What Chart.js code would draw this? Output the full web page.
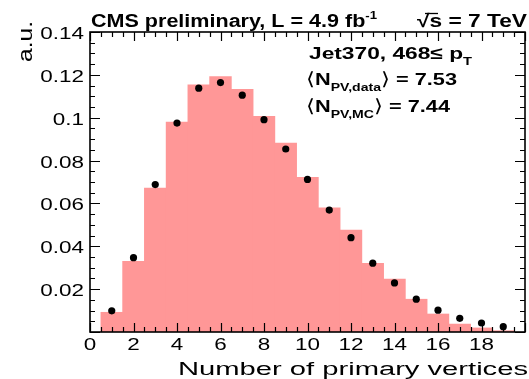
<!DOCTYPE html>
<html>
<head>
<meta charset="utf-8">
<script src="https://cdn.jsdelivr.net/npm/chart.js@4.4.1/dist/chart.umd.min.js"></script>
<style>
  html, body { margin: 0; padding: 0; background: #fff; }
  canvas { display: block; }
</style>
</head>
<body>
<canvas id="pvChart" width="529" height="379"></canvas>
<script>
// bins of the number of primary vertices (centres)
const binCenters = [1, 2, 3, 4, 5, 6, 7, 8, 9, 10, 11, 12, 13, 14, 15, 16, 17, 18, 19];
// MC histogram (pink)
const mcValues = [0.0092, 0.0330, 0.0672, 0.0980, 0.1153, 0.1192, 0.1132, 0.1006, 0.0882,
                  0.0722, 0.0580, 0.0476, 0.0321, 0.0247, 0.0153, 0.0084, 0.0037, 0.0019, 0.0006];
// data points (black)
const dataValues = [0.0099, 0.0347, 0.0688, 0.0975, 0.1138, 0.1164, 0.1105, 0.0991, 0.0854,
                    0.0712, 0.0569, 0.0440, 0.0321, 0.0229, 0.0153, 0.0102, 0.0064, 0.0042, 0.0025];
// axis labels
const xTickLabels = [0, 2, 4, 6, 8, 10, 12, 14, 16, 18];
const yTickLabels = [0.02, 0.04, 0.06, 0.08, 0.1, 0.12, 0.14];

const FONT = '"Liberation Sans", Arial, Helvetica, sans-serif';

// draw a run of text pieces, stretched horizontally to fit a given width
function drawParts(ctx, parts, x, y, width, align) {
  let natural = 0;
  for (const p of parts) {
    ctx.font = p.font;
    natural += ctx.measureText(p.text).width;
  }
  const sx = width ? width / natural : 1.32;
  let start = x;
  if (align === 'right') start = x - natural * sx;
  if (align === 'center') start = x - natural * sx / 2;
  ctx.save();
  ctx.translate(start, y);
  ctx.scale(sx, 1);
  ctx.textAlign = 'left';
  ctx.textBaseline = 'alphabetic';
  let cx = 0;
  for (const p of parts) {
    ctx.font = p.font;
    ctx.fillText(p.text, cx, p.dy || 0);
    cx += ctx.measureText(p.text).width;
  }
  ctx.restore();
}

const rootStyle = {
  id: 'rootStyle',
  afterDraw(chart) {
    const ctx = chart.ctx;
    const a = chart.chartArea;
    const xs = chart.scales.x;
    const ys = chart.scales.y;
    ctx.save();
    ctx.fillStyle = '#000';
    ctx.strokeStyle = '#000';

    // ticks on all four sides, pointing inwards
    ctx.lineWidth = 1.2;
    ctx.beginPath();
    for (let v = 0; v <= 20.001; v += 0.5) {
      const px = Math.round(xs.getPixelForValue(v)) + 0.5;
      const len = Math.abs(v % 2) < 1e-6 ? 9 : 5;
      ctx.moveTo(px, a.bottom); ctx.lineTo(px, a.bottom - len);
      ctx.moveTo(px, a.top); ctx.lineTo(px, a.top + len);
    }
    for (let i = 0; i <= 28; i++) {
      const v = i * 0.005;
      const py = Math.round(ys.getPixelForValue(v)) + 0.5;
      const len = i % 4 === 0 ? 10 : 5;
      ctx.moveTo(a.left, py); ctx.lineTo(a.left + len, py);
      ctx.moveTo(a.right, py); ctx.lineTo(a.right - len, py);
    }
    ctx.stroke();

    // frame
    ctx.lineWidth = 1.6;
    ctx.strokeRect(a.left, a.top, a.right - a.left, a.bottom - a.top);

    // tick labels
    const tickFont = '17px ' + FONT;
    for (const v of xTickLabels) {
      drawParts(ctx, [{ text: String(v), font: tickFont }], xs.getPixelForValue(v), 350, 0, 'center');
    }
    for (const v of yTickLabels) {
      drawParts(ctx, [{ text: String(v), font: tickFont }], 84, ys.getPixelForValue(v) + 7, 0, 'right');
    }

    // axis titles
    drawParts(ctx, [{ text: 'Number of primary vertices', font: '18px ' + FONT }], 528, 375, 350, 'right');
    ctx.save();
    ctx.translate(32, 21);
    ctx.rotate(-Math.PI / 2);
    drawParts(ctx, [{ text: 'a.u.', font: '20px ' + FONT }], 0, 0, 41, 'right');
    ctx.restore();

    // header
    const hb = 'bold 18px ' + FONT;
    const hs = 'bold 11px ' + FONT;
    drawParts(ctx, [{ text: 'CMS preliminary, L = 4.9 fb', font: hb }, { text: '-1', font: hs, dy: -8 }], 91, 27, 286, 'left');
    drawParts(ctx, [{ text: '\u221As = 7 TeV', font: hb }], 527, 27, 110, 'right');
    // overline of the square root
    ctx.lineWidth = 1.3;
    ctx.beginPath();
    ctx.moveTo(425, 13.5); ctx.lineTo(438, 13.5);
    ctx.stroke();

    // info box
    const ib = 'bold 17px ' + FONT;
    const is = 'bold 11px ' + FONT;
    const ia = '18px "DejaVu Sans", ' + FONT;
    drawParts(ctx, [{ text: 'Jet370, 468\u2264 p', font: ib }, { text: 'T', font: is, dy: 6 }], 309, 59, 163, 'left');
    drawParts(ctx, [{ text: '\u27E8', font: ia }, { text: 'N', font: ib }, { text: 'PV,data', font: is, dy: 6 },
                    { text: '\u27E9', font: ia }, { text: ' = 7.53', font: ib }], 306, 85, 151, 'left');
    drawParts(ctx, [{ text: '\u27E8', font: ia }, { text: 'N', font: ib }, { text: 'PV,MC', font: is, dy: 6 },
                    { text: '\u27E9', font: ia }, { text: ' = 7.44', font: ib }], 306, 112, 144, 'left');
    ctx.restore();
  }
};

const ctx = document.getElementById('pvChart').getContext('2d');
const pvChart = new Chart(ctx, {
  data: {
    datasets: [
      {
        type: 'scatter',
        label: 'data',
        data: binCenters.map((x, i) => ({ x: x, y: dataValues[i] })),
        pointRadius: 3.6,
        pointBorderWidth: 0,
        pointBackgroundColor: '#000',
        order: 0
      },
      {
        type: 'bar',
        label: 'MC',
        data: binCenters.map((x, i) => ({ x: x, y: mcValues[i] })),
        backgroundColor: '#ff9797',
        borderWidth: 0,
        barPercentage: 1,
        categoryPercentage: 1,
        grouped: false,
        order: 1
      }
    ]
  },
  options: {
    responsive: false,
    animation: false,
    events: [],
    layout: { padding: { left: 90, top: 32, right: 1, bottom: 47 } },
    plugins: {
      legend: { display: false },
      tooltip: { enabled: false }
    },
    scales: {
      x: { type: 'linear', min: 0, max: 20, offset: false, display: false },
      y: { type: 'linear', min: 0, max: 0.14, display: false }
    }
  },
  plugins: [rootStyle]
});
</script>
</body>
</html>
